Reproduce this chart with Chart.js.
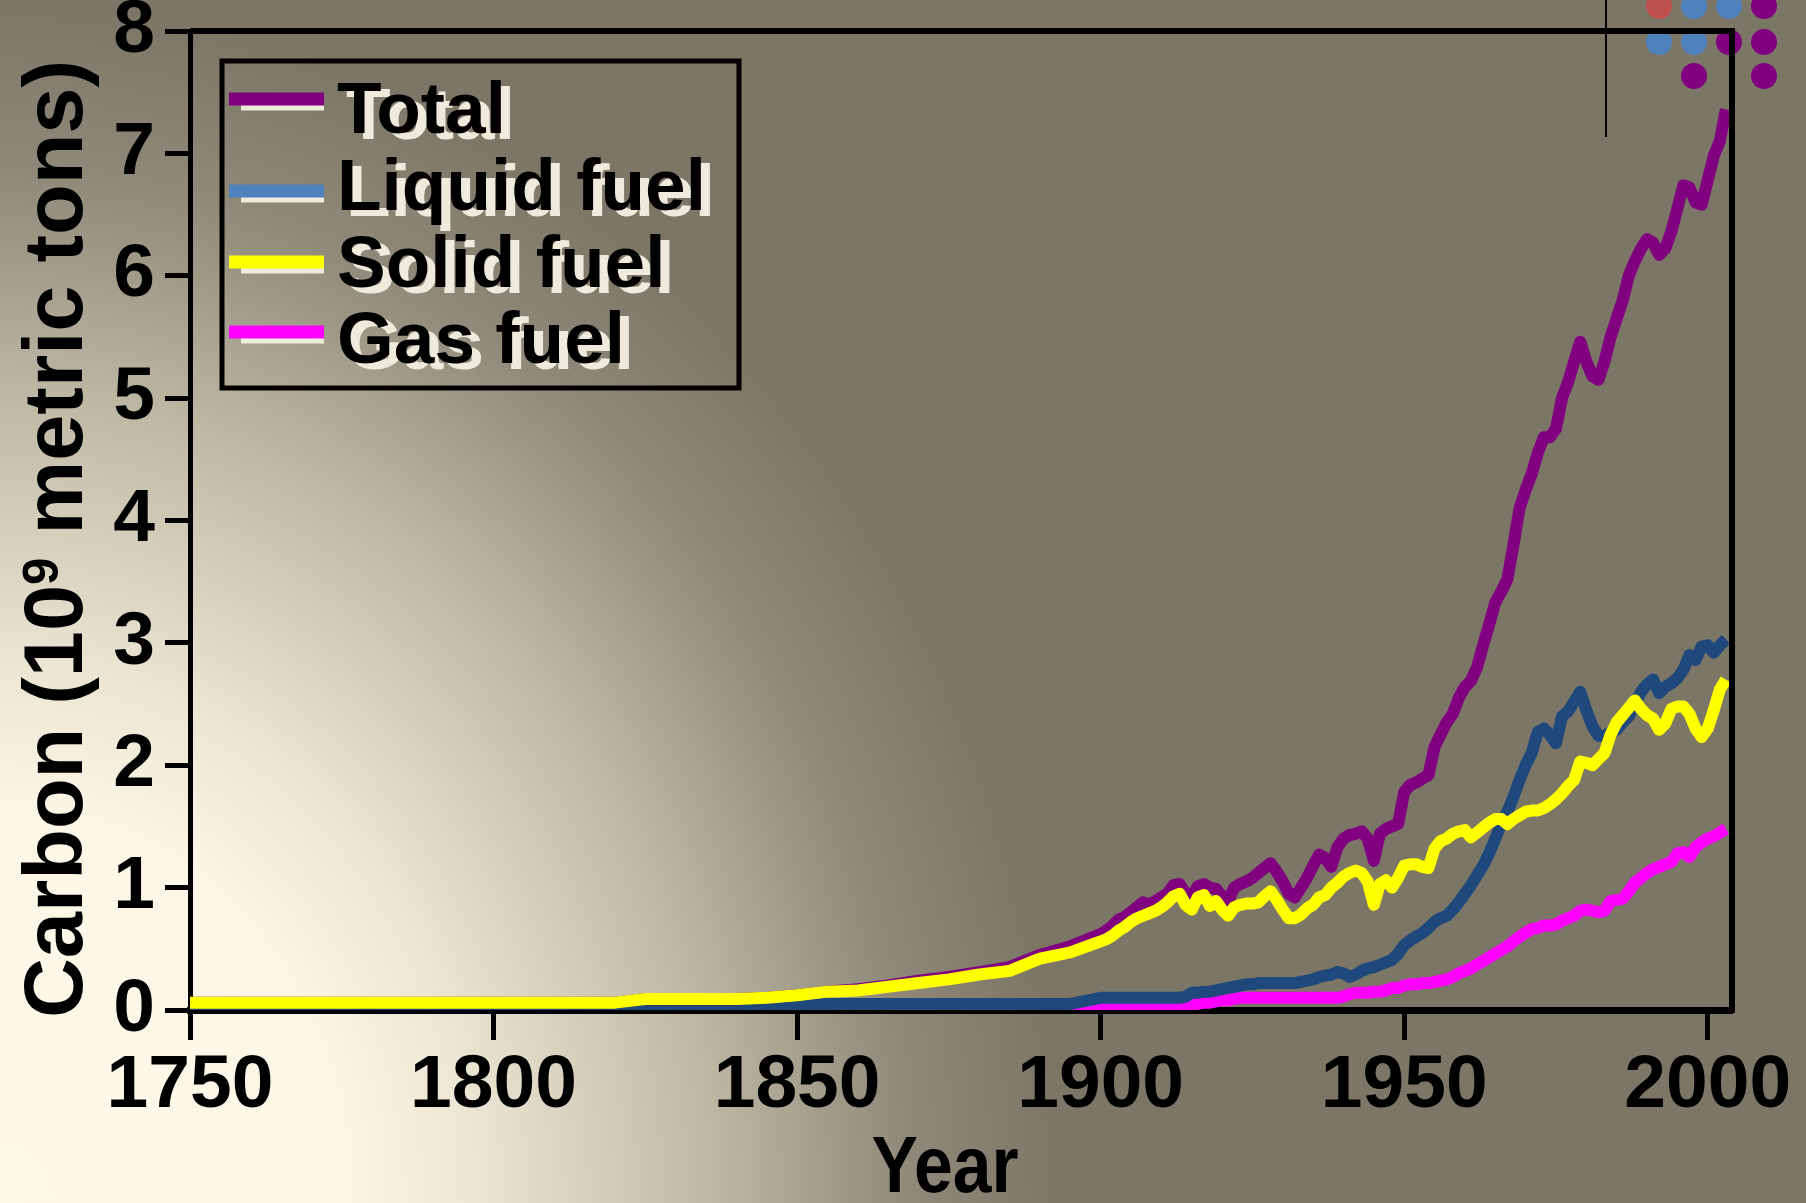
<!DOCTYPE html>
<html>
<head>
<meta charset="utf-8">
<title>Carbon emissions by fuel</title>
<script src="https://cdn.jsdelivr.net/npm/chart.js@4.4.1/dist/chart.umd.min.js"></script>
<style>
  html, body { margin: 0; padding: 0; }
  body {
    width: 1806px; height: 1203px; overflow: hidden;
    background: radial-gradient(ellipse 1060px 1200px at 0 100%,
      #fdf8e8 0%, #fbf6e5 33%, #ebe6d3 45%, #beb8a5 67%, #8e8978 86%, #7b7666 100%);
  }
  #wrap { position: absolute; left: 0; top: 0; width: 1806px; height: 1203px; }
</style>
</head>
<body>
<div id="wrap"><canvas id="chart" width="1806" height="1203"></canvas></div>
<script>
// years: every 5 years until 1895, then yearly
const years = [
  1750,1755,1760,1765,1770,1775,1780,1785,1790,1795,
  1800,1805,1810,1815,1820,1825,1830,1835,1840,1845,
  1850,1855,1860,1865,1870,1875,1880,1885,1890,1895,
  1900,1901,1902,1903,1904,1905,1906,1907,1908,1909,
  1910,1911,1912,1913,1914,1915,1916,1917,1918,1919,
  1920,1921,1922,1923,1924,1925,1926,1927,1928,1929,
  1930,1931,1932,1933,1934,1935,1936,1937,1938,1939,
  1940,1941,1942,1943,1944,1945,1946,1947,1948,1949,
  1950,1951,1952,1953,1954,1955,1956,1957,1958,1959,
  1960,1961,1962,1963,1964,1965,1966,1967,1968,1969,
  1970,1971,1972,1973,1974,1975,1976,1977,1978,1979,
  1980,1981,1982,1983,1984,1985,1986,1987,1988,1989,
  1990,1991,1992,1993,1994,1995,1996,1997,1998,1999,
  2000,2001,2002,2003
];

const total = [
  0.06,0.06,0.06,0.06,0.06,0.06,0.06,0.06,0.06,0.06,
  0.06,0.06,0.06,0.06,0.06,0.09,0.09,0.09,0.09,0.10,
  0.12,0.15,0.17,0.20,0.24,0.27,0.31,0.35,0.45,0.52,
  0.62,0.65,0.69,0.74,0.76,0.80,0.84,0.88,0.86,0.89,
  0.92,0.95,1.02,1.03,0.95,0.93,1.01,1.03,1.00,0.99,
  0.93,0.89,1.00,1.03,1.05,1.08,1.12,1.16,1.20,1.13,
  1.05,0.95,0.92,1.00,1.08,1.18,1.27,1.24,1.17,1.33,
  1.40,1.43,1.44,1.46,1.40,1.22,1.44,1.48,1.50,1.52,
  1.78,1.84,1.86,1.89,1.92,2.15,2.25,2.35,2.42,2.55,
  2.64,2.69,2.80,2.98,3.15,3.33,3.42,3.52,3.80,4.10,
  4.25,4.38,4.55,4.68,4.68,4.75,5.00,5.13,5.30,5.46,
  5.30,5.18,5.15,5.30,5.50,5.65,5.80,6.00,6.12,6.22,
  6.30,6.27,6.17,6.22,6.36,6.55,6.74,6.72,6.60,6.58,
  6.78,6.98,7.10,7.36
];

const liquid = [
  0.05,0.05,0.05,0.05,0.05,0.05,0.05,0.05,0.05,0.05,
  0.05,0.05,0.05,0.05,0.05,0.05,0.05,0.05,0.05,0.05,
  0.05,0.05,0.05,0.05,0.05,0.05,0.05,0.05,0.05,0.05,
  0.10,0.10,0.10,0.10,0.10,0.10,0.10,0.10,0.10,0.10,
  0.10,0.10,0.10,0.10,0.11,0.14,0.14,0.15,0.15,0.16,
  0.17,0.18,0.19,0.20,0.21,0.21,0.22,0.22,0.22,0.22,
  0.22,0.22,0.22,0.23,0.24,0.25,0.27,0.28,0.29,0.31,
  0.30,0.27,0.29,0.32,0.34,0.35,0.37,0.39,0.41,0.46,
  0.53,0.57,0.60,0.63,0.67,0.72,0.75,0.77,0.82,0.88,
  0.95,1.02,1.10,1.18,1.28,1.40,1.52,1.62,1.74,1.88,
  2.00,2.10,2.27,2.30,2.25,2.18,2.40,2.44,2.52,2.60,
  2.45,2.32,2.24,2.24,2.27,2.29,2.35,2.40,2.50,2.60,
  2.66,2.70,2.59,2.64,2.67,2.71,2.78,2.90,2.86,2.97,
  2.98,2.92,2.98,3.03
];

const solid = [
  0.06,0.06,0.06,0.06,0.06,0.06,0.06,0.06,0.06,0.06,
  0.06,0.06,0.06,0.06,0.06,0.09,0.09,0.09,0.09,0.10,
  0.12,0.15,0.16,0.19,0.22,0.25,0.29,0.32,0.42,0.47,
  0.56,0.58,0.61,0.65,0.68,0.72,0.75,0.77,0.79,0.81,
  0.84,0.88,0.93,0.95,0.86,0.82,0.92,0.94,0.85,0.89,
  0.82,0.77,0.84,0.86,0.87,0.87,0.88,0.93,0.97,0.90,
  0.82,0.75,0.75,0.78,0.83,0.86,0.92,0.94,1.00,1.04,
  1.09,1.12,1.14,1.12,1.05,0.86,1.03,1.06,1.00,1.08,
  1.18,1.19,1.19,1.17,1.16,1.32,1.38,1.40,1.44,1.46,
  1.47,1.41,1.45,1.49,1.53,1.56,1.56,1.52,1.56,1.59,
  1.62,1.63,1.63,1.65,1.68,1.72,1.77,1.83,1.88,2.03,
  2.02,2.00,2.05,2.10,2.25,2.35,2.41,2.47,2.53,2.46,
  2.41,2.38,2.29,2.34,2.46,2.48,2.48,2.42,2.30,2.23,
  2.30,2.45,2.62,2.70
];

const gas = [
  0.02,0.02,0.02,0.02,0.02,0.02,0.02,0.02,0.02,0.02,
  0.02,0.02,0.02,0.02,0.02,0.02,0.02,0.02,0.02,0.02,
  0.02,0.02,0.02,0.02,0.02,0.02,0.02,0.02,0.02,0.02,
  0.03,0.03,0.03,0.03,0.03,0.03,0.03,0.03,0.03,0.03,
  0.03,0.03,0.03,0.03,0.04,0.05,0.05,0.06,0.06,0.07,
  0.08,0.08,0.09,0.10,0.10,0.10,0.10,0.10,0.10,0.10,
  0.10,0.10,0.10,0.10,0.10,0.10,0.10,0.10,0.10,0.10,
  0.11,0.13,0.14,0.14,0.14,0.15,0.15,0.16,0.18,0.18,
  0.20,0.21,0.21,0.22,0.22,0.23,0.24,0.25,0.27,0.30,
  0.32,0.34,0.37,0.40,0.43,0.46,0.49,0.52,0.56,0.60,
  0.63,0.66,0.67,0.69,0.69,0.70,0.73,0.75,0.77,0.81,
  0.82,0.81,0.80,0.81,0.89,0.90,0.91,0.97,1.04,1.08,
  1.12,1.15,1.17,1.19,1.21,1.28,1.29,1.25,1.33,1.37,
  1.40,1.42,1.45,1.48
];

const seriesNames = ['Total', 'Liquid fuel', 'Solid fuel', 'Gas fuel'];
const xTicks = [1750, 1800, 1850, 1900, 1950, 2000];
const yTicks = [0, 1, 2, 3, 4, 5, 6, 7, 8];

const FONT = '"Liberation Sans", Arial, Helvetica, sans-serif';
const lineColors = ['#800080', '#1f497d', '#ffff00', '#ff00ff'];
const legendColors = ['#800080', '#4f81bd', '#ffff00', '#ff00ff'];
const cream = '#efebdc';

function pts(values) {
  return years.map((x, i) => ({ x: x, y: values[i] }));
}

// decoration in the top right corner
const dots = [
  [1659, 6, '#c0504d'], [1694, 6, '#4f81bd'], [1729, 6, '#4f81bd'], [1764, 6, '#800080'],
  [1659, 42, '#4f81bd'], [1694, 42, '#4f81bd'], [1729, 42, '#800080'], [1764, 42, '#800080'],
  [1694, 76, '#800080'], [1764, 76, '#800080']
];

const decor = {
  id: 'decor',
  beforeDraw(chart) {
    const ctx = chart.ctx;
    ctx.save();
    ctx.strokeStyle = '#000';
    ctx.lineWidth = 2;
    ctx.beginPath();
    ctx.moveTo(1606, 0);
    ctx.lineTo(1606, 137);
    ctx.stroke();
    dots.forEach(d => {
      ctx.fillStyle = d[2];
      ctx.beginPath();
      ctx.arc(d[0], d[1], 13, 0, Math.PI * 2);
      ctx.fill();
    });
    ctx.restore();
  },
  afterDraw(chart) {
    const ctx = chart.ctx;
    const a = chart.chartArea;
    ctx.save();

    // top and right frame
    ctx.strokeStyle = '#000';
    ctx.lineWidth = 6;
    ctx.lineJoin = 'miter';
    ctx.beginPath();
    ctx.moveTo(a.left, a.top);
    ctx.lineTo(a.right, a.top);
    ctx.lineTo(a.right, a.bottom + 3);
    ctx.stroke();

    // legend
    ctx.lineWidth = 5;
    ctx.strokeRect(222, 61, 517, 327);
    const rows = [[99, 133], [191, 210], [262, 287], [332, 363]];
    ctx.font = 'bold 73px ' + FONT;
    ctx.textBaseline = 'alphabetic';
    ctx.textAlign = 'left';
    chart.data.datasets.forEach((ds, i) => {
      const ly = rows[i][0], ty = rows[i][1];
      ctx.lineWidth = 13;
      ctx.strokeStyle = cream;
      ctx.beginPath(); ctx.moveTo(241, ly + 5); ctx.lineTo(324, ly + 5); ctx.stroke();
      ctx.strokeStyle = legendColors[i];
      ctx.beginPath(); ctx.moveTo(229, ly); ctx.lineTo(324, ly); ctx.stroke();
      ctx.fillStyle = cream;
      ctx.fillText(ds.label, 346, ty + 6);
      ctx.fillStyle = '#000';
      ctx.fillText(ds.label, 337, ty);
    });

    // x axis title
    ctx.save();
    ctx.translate(945, 1192);
    ctx.scale(0.87, 1);
    ctx.font = 'bold 80px ' + FONT;
    ctx.textAlign = 'center';
    ctx.fillStyle = '#000';
    ctx.fillText('Year', 0, 0);
    ctx.restore();

    // y axis title with superscript
    ctx.translate(82, 1018);
    ctx.rotate(-Math.PI / 2);
    const big = 84, small = 50;
    const p1 = 'Carbon (10', p2 = '9', p3 = ' metric tons)';
    ctx.font = 'bold ' + big + 'px ' + FONT;
    const w1 = ctx.measureText(p1).width;
    const w3 = ctx.measureText(p3).width;
    ctx.font = 'bold ' + small + 'px ' + FONT;
    const w2 = ctx.measureText(p2).width;
    ctx.scale(958 / (w1 + w2 + w3), 1);
    ctx.fillStyle = '#000';
    ctx.font = 'bold ' + big + 'px ' + FONT;
    ctx.fillText(p1, 0, 0);
    ctx.fillText(p3, w1 + w2, 0);
    ctx.font = 'bold ' + small + 'px ' + FONT;
    ctx.fillText(p2, w1, -0.716 * (big - small));

    ctx.restore();
  }
};

const ctx = document.getElementById('chart').getContext('2d');
new Chart(ctx, {
  type: 'line',
  data: {
    datasets: [
      { label: seriesNames[0], data: pts(total), borderColor: lineColors[0], order: 4 },
      { label: seriesNames[1], data: pts(liquid), borderColor: lineColors[1], order: 2 },
      { label: seriesNames[2], data: pts(solid), borderColor: lineColors[2], order: 1 },
      { label: seriesNames[3], data: pts(gas), borderColor: lineColors[3], order: 3 }
    ]
  },
  options: {
    responsive: false,
    animation: false,
    layout: { padding: { top: 31, right: 74, left: 0, bottom: 0 } },
    elements: {
      line: { borderWidth: 12, tension: 0, fill: false, borderJoinStyle: 'round', borderCapStyle: 'butt' },
      point: { radius: 0 }
    },
    plugins: {
      legend: { display: false },
      tooltip: { enabled: false }
    },
    scales: {
      x: {
        type: 'linear',
        min: 1750,
        max: 2004,
        afterBuildTicks: s => { s.ticks = xTicks.map(v => ({ value: v })); },
        afterFit: s => { s.height = 193; s.paddingLeft = 0; s.paddingRight = 0; },
        grid: { drawOnChartArea: false, drawTicks: true, tickLength: 30, tickWidth: 5, tickColor: '#000' },
        border: { display: true, color: '#000', width: 7 },
        ticks: {
          color: '#000',
          padding: 1,
          maxRotation: 0,
          autoSkip: false,
          font: { family: FONT, size: 75, weight: 'bold' },
          callback: v => String(v)
        },
        title: { display: false }
      },
      y: {
        min: 0,
        max: 8,
        afterBuildTicks: s => { s.ticks = yTicks.map(v => ({ value: v })); },
        afterFit: s => { s.width = 190; s.paddingTop = 0; s.paddingBottom = 0; },
        grid: { drawOnChartArea: false, drawTicks: true, tickLength: 25, tickWidth: 5, tickColor: '#000' },
        border: { display: true, color: '#000', width: 5 },
        ticks: {
          color: '#000',
          padding: 10,
          font: { family: FONT, size: 75, weight: 'bold' },
          callback: v => String(v)
        }
      }
    }
  },
  plugins: [decor]
});
</script>
</body>
</html>
